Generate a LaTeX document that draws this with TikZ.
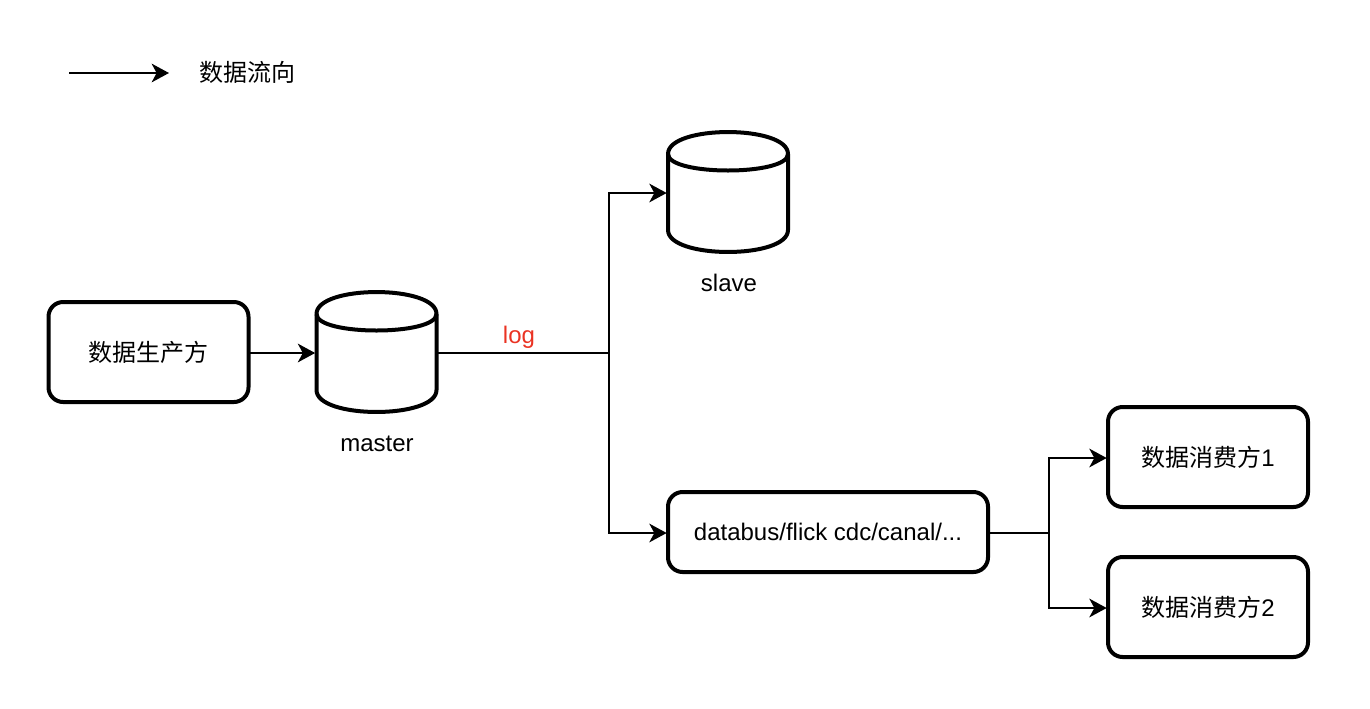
\documentclass[tikz,border=0pt]{standalone}
\usepackage{fontspec}
\setmainfont{Liberation Sans}
\newfontfamily\cjk{Noto Sans CJK SC}
\usetikzlibrary{arrows.meta}
\tikzset{>={Stealth[width=14pt,length=13pt,inset=3.75pt]}}
\definecolor{LogColor}{RGB}{234,51,35}
\tikzset{
	flow/.style={->,line width=1.5pt,shorten >=1pt},
	link/.style={line width=1.5pt},
	stagebox/.style={draw,line width=3pt,outer sep=0pt,rounded corners=11pt,minimum height=75pt,inner sep=0pt,font=\fontsize{18}{22}\selectfont},
	store/.style={outer sep=0pt,minimum width=90pt,minimum height=90pt,inner sep=0pt},
	caption/.style={font=\fontsize{18}{22}\selectfont,anchor=base}
}
% barrel outline around a store node, 90pt square on its centre line
\newcommand{\drawstore}[1]{
	\draw[line width=3pt,line join=round] ([shift={(-60,-38)}]#1.center) .. controls +(0,-29.3) and +(0,-29.3) .. +(120,0) -- ++(120,76) .. controls +(0,29.3) and +(0,29.3) .. +(-120,0) -- cycle;
	\draw[line width=3pt] ([shift={(-60,-38)}]#1.center) .. controls +(0,22) and +(0,22) .. +(120,0);
}

\begin{document}
\begin{tikzpicture}[x=0.75pt,y=-0.75pt]
		\useasboundingbox (0,0) rectangle (1370,708);

		% legend
		\coordinate (legendstart) at (69,73);
		\coordinate (legendend) at (169,73);
		\draw[flow,shorten >=0pt] (legendstart) -- (legendend);
		\node[caption] (legendtext) at (247,81) {\cjk 数据流向};

		% producer and databases
		\node[stagebox,minimum width=150pt] (producer) at (148.5,352) {\cjk 数据生产方};
		\node[store] (master) at (376.5,352) {};
		\node[store] (slave) at (728,192) {};
		\drawstore{master}
		\drawstore{slave}
		\node[caption] (mastertext) at (377,451) {master};
		\node[caption] (slavetext) at (729,291) {slave};

		% databus and consumers
		\node[stagebox,minimum width=240pt,minimum height=60pt] (databus) at (828,532) {databus/flick cdc/canal/...};
		\node[stagebox,minimum width=150pt] (consumerone) at (1208,457) {{\cjk 数据消费方}1};
		\node[stagebox,minimum width=150pt] (consumertwo) at (1208,607) {{\cjk 数据消费方}2};

		% log split
		\coordinate (logsplit) at (609,353);
		\node[caption,text=LogColor] (logtext) at (519,343) {log};
		\draw[flow] (producer.east |- logsplit) -- (master.west |- logsplit);
		\draw[link] (master.east |- logsplit) -- (logsplit);
		\draw[flow] (logsplit) |- ([yshift=-0.75]slave.west);
		\draw[flow] (logsplit) |- ([yshift=-0.75]databus.west);

		% consumer split
		\coordinate (consumersplit) at (1049,533);
		\draw[link] (databus.east |- consumersplit) -- (consumersplit);
		\draw[flow] (consumersplit) |- ([yshift=-0.75]consumerone.west);
		\draw[flow] (consumersplit) |- ([yshift=-0.75]consumertwo.west);

	\end{tikzpicture}
\end{document}
